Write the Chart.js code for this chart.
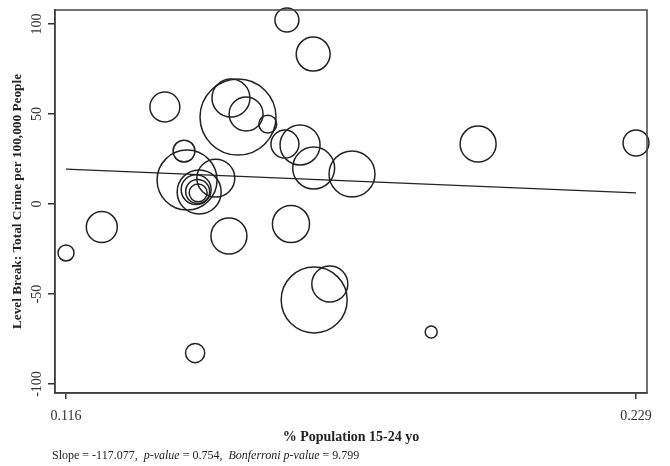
<!DOCTYPE html>
<html>
<head>
<meta charset="utf-8">
<script src="https://cdn.jsdelivr.net/npm/chart.js@4.4.1/dist/chart.umd.min.js"></script>
<style>
  html, body { margin: 0; padding: 0; background: #fff; }
  #wrap { width: 670px; height: 466px; }
</style>
</head>
<body>
<div id="wrap"><canvas id="chart" width="670" height="466"></canvas></div>
<script>
// share of population aged 15-24 (one bubble per state)
const popShare = [0.1160, 0.1231, 0.1356, 0.1394, 0.1400, 0.1457, 0.1424, 0.1418, 0.1421, 0.1422,
                  0.1487, 0.1501, 0.1517, 0.1560, 0.1594, 0.1624, 0.1651, 0.1727, 0.1598, 0.1650,
                  0.1483, 0.1606, 0.1652, 0.1683, 0.1416, 0.1884, 0.1977, 0.2290];
// level break: total crime per 100,000 people
const levelBreak = [-27.2, -12.8, 53.9, 29.4, 13.3, 14.4, 6.7, 8.0, 7.0, 6.2,
                    58.9, 48.3, 50.0, 44.4, 33.3, 32.8, 20.0, 16.7, 102.2, 83.3,
                    -17.8, -11.1, -53.3, -44.4, -82.8, -71.1, 33.3, 33.9];
// population weight (bubble area)
const popWeight = [16, 60, 56, 30, 225, 90, 121, 56, 36, 20,
                   90, 361, 72, 20, 49, 100, 110, 132, 36, 72,
                   81, 86, 272, 81, 23, 9, 81, 42];

const xTicks = [0.116, 0.229];
const yTicks = [-100, -50, 0, 50, 100];

// fitted line end points
const fitX = [0.116, 0.229];
const fitY = [19.4, 6.2];

const slope = '-117.077', pValue = '0.754', bonfP = '9.799';

const serif = '"Liberation Serif", "DejaVu Serif", serif';

const bubbles = popShare.map((x, i) => ({ x: x, y: levelBreak[i], r: 2 * Math.sqrt(popWeight[i]) }));
const fitLine = fitX.map((x, i) => ({ x: x, y: fitY[i] }));

// box round the plot + the note under it
const frameAndNote = {
  id: 'frameAndNote',
  afterDraw(chart) {
    const ctx = chart.ctx;
    const a = chart.chartArea;
    ctx.save();
    ctx.strokeStyle = '#444';
    ctx.lineWidth = 1.5;
    ctx.strokeRect(a.left, a.top, a.right - a.left, a.bottom - a.top);

    const parts = [
      ['Slope = ' + slope + ',  ', ''],
      ['p-value', 'italic '],
      [' = ' + pValue + ',  ', ''],
      ['Bonferroni p-value', 'italic '],
      [' = ' + bonfP, '']
    ];
    let x = 52;
    ctx.fillStyle = '#222';
    ctx.textBaseline = 'middle';
    parts.forEach(([t, st]) => {
      ctx.font = st + '12px ' + serif;
      ctx.fillText(t, x, 456);
      x += ctx.measureText(t).width;
    });
    ctx.restore();
  }
};

new Chart(document.getElementById('chart'), {
  type: 'bubble',
  data: {
    datasets: [
      {
        label: 'States',
        data: bubbles,
        backgroundColor: 'rgba(0,0,0,0)',
        borderColor: '#222',
        borderWidth: 1.5,
        hoverBorderWidth: 1.5,
        clip: false
      },
      {
        type: 'line',
        label: 'Fit',
        data: fitLine,
        borderColor: '#222',
        borderWidth: 1.3,
        pointRadius: 0,
        fill: false
      }
    ]
  },
  options: {
    responsive: false,
    animation: false,
    layout: { autoPadding: false, padding: { top: 10, right: 23, bottom: 20, left: 0 } },
    plugins: {
      legend: { display: false },
      tooltip: { enabled: false }
    },
    scales: {
      x: {
        type: 'linear',
        min: 0.11382,
        max: 0.23118,
        afterBuildTicks: s => { s.ticks = xTicks.map(v => ({ value: v })); },
        afterFit: s => { s.height = 53; s.paddingLeft = 0; s.paddingRight = 0; },
        ticks: {
          callback: v => v.toFixed(3),
          font: { family: serif, size: 14 },
          color: '#333',
          padding: 9,
          maxRotation: 0
        },
        grid: { drawOnChartArea: false, drawTicks: true, tickLength: 6, color: '#333', lineWidth: 1.5 },
        border: { display: true, color: '#333', width: 1.5 },
        title: {
          display: true,
          text: '% Population 15-24 yo',
          font: { family: serif, size: 14, weight: 'bold' },
          color: '#222',
          padding: { top: 0, bottom: 0 }
        }
      },
      y: {
        type: 'linear',
        min: -105,
        max: 107.8,
        afterBuildTicks: s => { s.ticks = yTicks.map(v => ({ value: v })); },
        afterFit: s => { s.width = 55; s.paddingTop = 0; s.paddingBottom = 0; },
        ticks: {
          font: { family: serif, size: 14 },
          color: '#333',
          padding: -2,
          minRotation: 90,
          maxRotation: 90,
          crossAlign: 'center'
        },
        grid: { drawOnChartArea: false, drawTicks: true, tickLength: 7, color: '#333', lineWidth: 1.5 },
        border: { display: true, color: '#333', width: 1.5 },
        title: {
          display: true,
          text: 'Level Break: Total Crime per 100,000 People',
          font: { family: serif, size: 13.3, weight: 'bold' },
          color: '#222',
          padding: { top: 10, bottom: 0 }
        }
      }
    }
  },
  plugins: [frameAndNote]
});
</script>
</body>
</html>
